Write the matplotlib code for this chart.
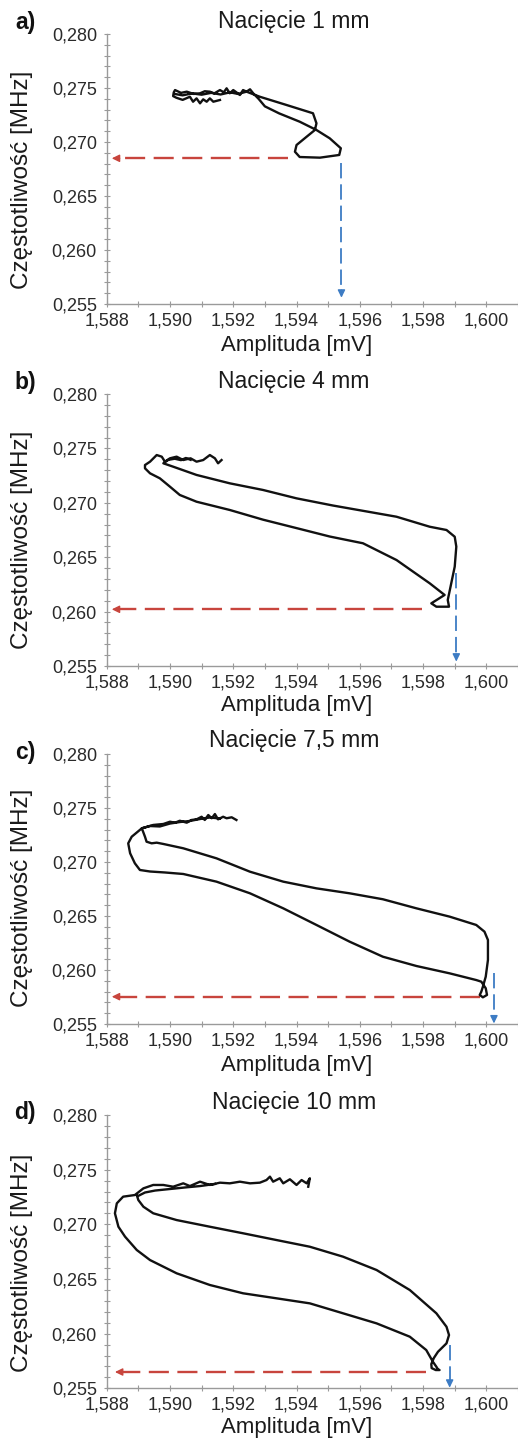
import matplotlib
matplotlib.use('Agg')
import matplotlib.pyplot as plt
from matplotlib.ticker import FixedLocator, NullFormatter

plt.rcParams['font.family'] = ['Liberation Sans', 'DejaVu Sans']

# ---------------- data ----------------
titles = ['Nacięcie 1 mm', 'Nacięcie 4 mm', 'Nacięcie 7,5 mm', 'Nacięcie 10 mm']
panel_labels = ['a)', 'b)', 'c)', 'd)']
x_label = 'Amplituda [mV]'
y_label = 'Częstotliwość [MHz]'

x_ticks = [1.588, 1.590, 1.592, 1.594, 1.596, 1.598, 1.600]
x_tick_labels = ['1,588', '1,590', '1,592', '1,594', '1,596', '1,598', '1,600']
x_minor = [1.589, 1.591, 1.593, 1.595, 1.597, 1.599, 1.601]
y_ticks = [0.255, 0.260, 0.265, 0.270, 0.275, 0.280]
y_tick_labels = ['0,255', '0,260', '0,265', '0,270', '0,275', '0,280']
y_minor = [0.256, 0.257, 0.258, 0.259, 0.261, 0.262, 0.263, 0.264, 0.266, 0.267,
           0.268, 0.269, 0.271, 0.272, 0.273, 0.274, 0.276, 0.277, 0.278, 0.279]

# panel a) 1 mm
amp_a = [1.59158, 1.59137, 1.59126, 1.59116, 1.59105, 1.59095, 1.59084, 1.59073, 1.59063, 1.59040, 1.59020, 1.59010,
         1.59012, 1.59016, 1.59035, 1.59053, 1.59075, 1.59095, 1.59110, 1.59126, 1.59140, 1.59158, 1.59170, 1.59179,
         1.59189, 1.59200, 1.59210, 1.59221, 1.59231, 1.59242, 1.59253, 1.59263,
         1.59280, 1.59300, 1.59345, 1.59410, 1.59463, 1.59505, 1.59540, 1.59535, 1.59474, 1.59410, 1.59395, 1.59400,
         1.59432, 1.59458, 1.59463, 1.59452, 1.59368, 1.59284, 1.59242,
         1.59215, 1.59190, 1.59160, 1.59130, 1.59100, 1.59070, 1.59040, 1.59015]
freq_a = [0.27389, 0.27373, 0.27404, 0.27373, 0.27395, 0.27358, 0.27404, 0.27373, 0.27419, 0.27390, 0.27410, 0.27425,
          0.27460, 0.27481, 0.27455, 0.27466, 0.27445, 0.27451, 0.27470, 0.27466, 0.27450, 0.27481, 0.27460, 0.27497,
          0.27451, 0.27481, 0.27460, 0.27435, 0.27481, 0.27466, 0.27488, 0.27451,
          0.27400, 0.27330, 0.27265, 0.27188, 0.27111, 0.27034, 0.26942, 0.26880, 0.26855, 0.26861, 0.26910, 0.26972,
          0.27049, 0.27111, 0.27173, 0.27266, 0.27343, 0.27419, 0.27466,
          0.27445, 0.27460, 0.27440, 0.27455, 0.27438, 0.27450, 0.27432, 0.27445]

# panel b) 4 mm
amp_b = [1.59163, 1.59152, 1.59142, 1.59126, 1.59105, 1.59084, 1.59065, 1.59042, 1.59021, 1.59000, 1.58984, 1.58974,
         1.58958, 1.58937, 1.58921,
         1.58921, 1.58937, 1.58968, 1.59000, 1.59031, 1.59084, 1.59189, 1.59294, 1.59410, 1.59505, 1.59610, 1.59716,
         1.59821, 1.59868,
         1.59826, 1.59842, 1.59882, 1.59878,
         1.59889, 1.59900, 1.59905, 1.59900, 1.59874, 1.59821, 1.59716, 1.59515, 1.59400, 1.59294, 1.59189, 1.59084,
         1.59010, 1.58979,
         1.58995, 1.59015, 1.59035, 1.59050, 1.59065]
freq_b = [0.27393, 0.27363, 0.27409, 0.27439, 0.27393, 0.27378, 0.27409, 0.27393, 0.27424, 0.27409, 0.27378, 0.27424,
          0.27439, 0.27378, 0.27347,
          0.27317, 0.27271, 0.27225, 0.27148, 0.27072, 0.27010, 0.26934, 0.26845, 0.26760, 0.26690, 0.26628, 0.26474,
          0.26260, 0.26153,
          0.26076, 0.26045, 0.26045, 0.26107,
          0.26260, 0.26413, 0.26597, 0.26688, 0.26750, 0.26780, 0.26872, 0.26975, 0.27041, 0.27118, 0.27179, 0.27256,
          0.27332, 0.27363,
          0.27395, 0.27405, 0.27392, 0.27412, 0.27395]

# panel c) 7,5 mm
amp_c = [1.59210, 1.59195, 1.59179, 1.59168, 1.59152, 1.59142, 1.59132, 1.59121, 1.59110, 1.59100, 1.59084, 1.59068,
         1.59053, 1.59031, 1.59016, 1.59000, 1.58979, 1.58947, 1.58911,
         1.58879, 1.58868, 1.58874, 1.58889, 1.58905, 1.58937, 1.58984, 1.59042, 1.59147, 1.59253, 1.59358, 1.59463,
         1.59568, 1.59673, 1.59779, 1.59884, 1.59968,
         1.59984, 1.59998, 1.60002, 1.59989, 1.59979, 1.59984, 1.59989, 1.59998, 1.60005, 1.60005, 1.59994, 1.59968,
         1.59884, 1.59779, 1.59673, 1.59568, 1.59463, 1.59358, 1.59253, 1.59147, 1.59042, 1.58979, 1.58958, 1.58942,
         1.58926, 1.58921, 1.58911,
         1.58937, 1.58968, 1.59000, 1.59031, 1.59063, 1.59095, 1.59126, 1.59158]
freq_c = [0.27389, 0.27414, 0.27405, 0.27419, 0.27395, 0.27444, 0.27405, 0.27435, 0.27389, 0.27419, 0.27395, 0.27389,
          0.27364, 0.27382, 0.27364, 0.27373, 0.27352, 0.27343, 0.27312,
          0.27234, 0.27173, 0.27081, 0.26988, 0.26926, 0.26912, 0.26903, 0.26889, 0.26818, 0.26710, 0.26571, 0.26417,
          0.26262, 0.26123, 0.26037, 0.25969, 0.25907,
          0.25892, 0.25831, 0.25769, 0.25747, 0.25769, 0.25799, 0.25845, 0.25938, 0.26093, 0.26278, 0.26355, 0.26417,
          0.26494, 0.26571, 0.26655, 0.26710, 0.26756, 0.26818, 0.26910, 0.27034, 0.27127, 0.27167, 0.27179, 0.27173,
          0.27188, 0.27234, 0.27312,
          0.27333, 0.27329, 0.27356, 0.27370, 0.27380, 0.27398, 0.27412, 0.27403]

# panel d) 10 mm
amp_d = [1.59437, 1.59442, 1.59432, 1.59416, 1.59400, 1.59379, 1.59358, 1.59347, 1.59326, 1.59316, 1.59305, 1.59284,
         1.59253, 1.59221, 1.59189, 1.59158, 1.59126, 1.59095, 1.59063, 1.59042, 1.59010, 1.58979, 1.58947, 1.58916,
         1.58889,
         1.58852, 1.58832, 1.58826, 1.58837, 1.58858, 1.58895, 1.58937, 1.59021, 1.59126, 1.59231, 1.59337, 1.59442,
         1.59547, 1.59653, 1.59758, 1.59810, 1.59831, 1.59842, 1.59847,
         1.59852, 1.59840, 1.59827, 1.59826, 1.59834,
         1.59847, 1.59874, 1.59882, 1.59874, 1.59842, 1.59758, 1.59653, 1.59547, 1.59442, 1.59337, 1.59231, 1.59126,
         1.59021, 1.58947, 1.58916, 1.58900, 1.58895,
         1.58899, 1.58921, 1.58953, 1.59000, 1.59047, 1.59095, 1.59142]
freq_d = [0.27344, 0.27421, 0.27375, 0.27405, 0.27360, 0.27412, 0.27375, 0.27421, 0.27390, 0.27436, 0.27405, 0.27381,
          0.27375, 0.27390, 0.27375, 0.27381, 0.27360, 0.27390, 0.27350, 0.27375, 0.27344, 0.27360, 0.27360, 0.27329,
          0.27268,
          0.27253, 0.27192, 0.27101, 0.26978, 0.26887, 0.26765, 0.26673, 0.26552, 0.26445, 0.26369, 0.26323, 0.26277,
          0.26186, 0.26094, 0.25972, 0.25850, 0.25743, 0.25697, 0.25673,
          0.25667, 0.25667, 0.25685, 0.25722, 0.25777,
          0.25834, 0.25911, 0.25987, 0.26063, 0.26186, 0.26399, 0.26582, 0.26704, 0.26795, 0.26856, 0.26918, 0.26978,
          0.27039, 0.27101, 0.27161, 0.27222, 0.27268,
          0.27259, 0.27291, 0.27309, 0.27323, 0.27337, 0.27350, 0.27369]

# marker arrows (red: frequency read-off, blue: amplitude read-off)
red_arrow_freq = [0.26849, 0.26021, 0.25753, 0.25649]
red_arrow_from = [1.59373, 1.59795, 1.59979, 1.59810]
red_arrow_to = [1.58816, 1.58816, 1.58816, 1.58826]
blue_arrow_amp = [1.59542, 1.59905, 1.60024, 1.59884]
blue_arrow_from = [0.26803, 0.26352, 0.25969, 0.25897]
blue_arrow_to = [0.25558, 0.25540, 0.25505, 0.25505]

amps = [amp_a, amp_b, amp_c, amp_d]
freqs = [freq_a, freq_b, freq_c, freq_d]

# ---------------- layout ----------------
W, H = 518, 1445
fig = plt.figure(figsize=(W / 100, H / 100), dpi=100)
fig.patch.set_facecolor('white')

ax_left = 106.7 / W
ax_width = 1.0 - ax_left
tops_px = [34, 394, 754, 1115]
bottoms_px = [304, 666, 1024, 1388.3]
title_y_px = [21.7, 381.7, 740, 1103]
plabel_y_px = [22, 382, 753, 1113]
xlabel_y_px = [345, 706, 1065, 1428]
ylabel_off_px = [10.5, 10, 9, 11]

RED = '#C8453D'
BLUE = '#3D7CC4'
AXC = '#9a9a9a'

for i in range(4):
    b = 1 - bottoms_px[i] / H
    t = 1 - tops_px[i] / H
    ax = fig.add_axes([ax_left, b, ax_width, t - b])
    ax.set_xlim(1.588, 1.601)
    ax.set_ylim(0.255, 0.280)
    for s in ['top', 'right']:
        ax.spines[s].set_visible(False)
    for s in ['left', 'bottom']:
        ax.spines[s].set_color(AXC)
        ax.spines[s].set_linewidth(1.0)
    ax.xaxis.set_major_locator(FixedLocator(x_ticks))
    ax.xaxis.set_minor_locator(FixedLocator(x_minor))
    ax.set_xticklabels(x_tick_labels)
    ax.yaxis.set_major_locator(FixedLocator(y_ticks))
    ax.yaxis.set_minor_locator(FixedLocator(y_minor))
    ax.set_yticklabels(y_tick_labels)
    ax.xaxis.set_minor_formatter(NullFormatter())
    ax.yaxis.set_minor_formatter(NullFormatter())
    ax.tick_params(which='both', direction='inout', color=AXC, width=0.8, length=4)
    ax.tick_params(axis='x', which='major', labelsize=13, labelcolor='#2a2a2a', pad=4)
    ax.tick_params(axis='y', which='major', labelsize=13, labelcolor='#2a2a2a', pad=5)

    # red dashed arrow (horizontal, to the frequency axis)
    yr = red_arrow_freq[i]
    head_len = 0.00025
    ax.plot([red_arrow_from[i], red_arrow_to[i] + head_len], [yr, yr], color=RED, lw=1.7,
            dashes=(8.5, 3.6), solid_capstyle='butt', zorder=2)
    ax.annotate('', xy=(red_arrow_to[i], yr), xytext=(red_arrow_to[i] + head_len, yr),
                arrowprops=dict(arrowstyle='-|>,head_length=0.45,head_width=0.22', color=RED,
                                lw=1.0, shrinkA=0, shrinkB=0), zorder=2)
    # blue dashed arrow (vertical, to the amplitude axis)
    xb = blue_arrow_amp[i]
    head_v = 0.0007
    ax.plot([xb, xb], [blue_arrow_from[i], blue_arrow_to[i] + head_v], color=BLUE, lw=1.3,
            dashes=(8.5, 3.3), solid_capstyle='butt', zorder=2)
    ax.annotate('', xy=(xb, blue_arrow_to[i]), xytext=(xb, blue_arrow_to[i] + head_v),
                arrowprops=dict(arrowstyle='-|>,head_length=0.45,head_width=0.22', color=BLUE,
                                lw=1.0, shrinkA=0, shrinkB=0), zorder=2)

    # measured loop
    ax.plot(amps[i], freqs[i], color='#111111', lw=1.7, solid_joinstyle='round', zorder=3)

    # texts
    fig.text(294 / W, 1 - title_y_px[i] / H, titles[i], ha='center', va='center',
             fontsize=16.5, color='#1a1a1a')
    fig.text(25 / W, 1 - plabel_y_px[i] / H, panel_labels[i], ha='center', va='center',
             fontsize=16.5, fontweight='bold', color='#111111')
    fig.text(296.7 / W, 1 - xlabel_y_px[i] / H, x_label, ha='center', va='center',
             fontsize=16, color='#1a1a1a')
    yc = (tops_px[i] + bottoms_px[i]) / 2 + ylabel_off_px[i]
    fig.text(22 / W, 1 - yc / H, y_label, ha='center', va='center', rotation=90,
             fontsize=17.5, color='#1a1a1a')

fig.savefig('out.png', dpi=100, facecolor='white')
